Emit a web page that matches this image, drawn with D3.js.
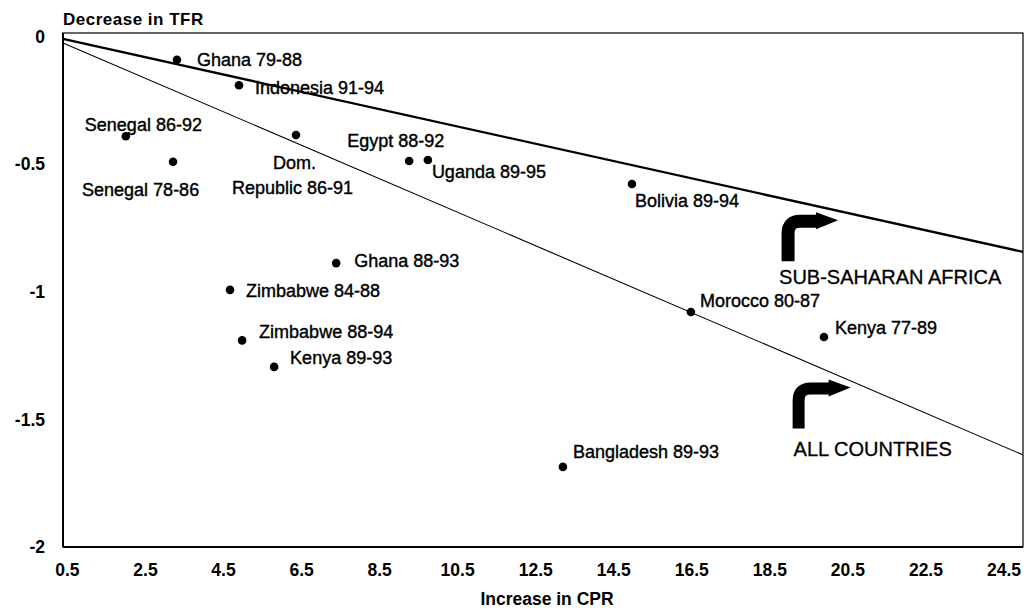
<!DOCTYPE html>
<html>
<head>
<meta charset="utf-8">
<script src="https://cdn.jsdelivr.net/npm/d3@7"></script>
<style>
  html, body { margin: 0; padding: 0; background: #fff; }
  svg { display: block; }
  text { font-family: "Liberation Sans", Arial, Helvetica, sans-serif; fill: #000; }
</style>
</head>
<body>
<svg id="chart" width="1028" height="609"></svg>
<script>
// Country episodes: increase in contraceptive prevalence (CPR) vs. decrease in TFR
const periods = [
  "Ghana 79-88", "Indonesia 91-94", "Senegal 86-92", "Senegal 78-86",
  "Dom.\nRepublic 86-91", "Egypt 88-92", "Uganda 89-95", "Ghana 88-93",
  "Zimbabwe 84-88", "Zimbabwe 88-94", "Kenya 89-93", "Bolivia 89-94",
  "Morocco 80-87", "Kenya 77-89", "Bangladesh 89-93"
];
const cprIncrease = [3.32, 4.91, 2.01, 3.22, 6.37, 9.27, 9.75, 7.40, 4.68, 4.99, 5.81, 14.98, 16.49, 19.90, 13.21];
const tfrDecrease = [-0.09, -0.19, -0.39, -0.49, -0.385, -0.487, -0.483, -0.887, -0.992, -1.19, -1.294, -0.577, -1.079, -1.177, -1.686];

// Fitted lines, given at the two ends of the x domain
const fitX = [0.4, 25];
const ssaFit = [-0.0085, -0.843];
const allFit = [-0.024, -1.639];

const xTicks = [0.5, 2.5, 4.5, 6.5, 8.5, 10.5, 12.5, 14.5, 16.5, 18.5, 20.5, 22.5, 24.5];
const yTicks = [0, -0.5, -1, -1.5, -2];

// Label placement (pixel offsets from each point, one entry per text line)
const labelOffsets = [
  [[20, 0]], [[16, 2]], [[-41, -12]], [[-91, 28]],
  [[-23, 28], [-64, 53]], [[-62, -20]], [[4, 12]], [[18, -2]],
  [[16, 1]], [[17, -9]], [[16, -9]], [[3, 17]],
  [[9, -11]], [[11, -9]], [[10, -15]]
];

const svg = d3.select("#chart");
const plot = { left: 63, right: 1023, top: 33, bottom: 547 };

const x = d3.scaleLinear().domain([0.4, 25]).range([plot.left, plot.right]);
const y = d3.scaleLinear().domain([0.015, -2]).range([plot.top, plot.bottom]);

// Plot frame
svg.append("rect")
  .attr("x", plot.left).attr("y", plot.top)
  .attr("width", plot.right - plot.left).attr("height", plot.bottom - plot.top)
  .attr("fill", "none").attr("stroke", "#000").attr("stroke-width", 1.2);
svg.append("line")
  .attr("x1", plot.left).attr("x2", plot.left).attr("y1", plot.top).attr("y2", plot.bottom)
  .attr("stroke", "#000").attr("stroke-width", 2);
svg.append("line")
  .attr("x1", plot.left).attr("x2", plot.right).attr("y1", plot.bottom).attr("y2", plot.bottom)
  .attr("stroke", "#000").attr("stroke-width", 2);

// Axes (labels only, no tick marks)
const xAxis = d3.axisBottom(x).tickValues(xTicks).tickSize(0).tickPadding(0)
  .tickFormat(d3.format(".1f"));
const gx = svg.append("g").attr("transform", `translate(0,${plot.bottom + 23})`).call(xAxis);
gx.select(".domain").remove();
gx.selectAll("text").attr("dy", "0.32em")
  .style("font-size", "17.5px").style("font-weight", "bold");

const yAxis = d3.axisLeft(y).tickValues(yTicks).tickSize(0).tickPadding(0)
  .tickFormat(d => String(d));
const gy = svg.append("g").attr("transform", `translate(${plot.left - 18},0)`).call(yAxis);
gy.select(".domain").remove();
gy.selectAll("text")
  .style("font-size", "17.5px").style("font-weight", "bold");

// Axis titles
svg.append("text").attr("x", plot.left).attr("y", 25)
  .style("font-size", "17px").style("font-weight", "bold").style("letter-spacing", "0.5px")
  .text("Decrease in TFR");
svg.append("text").attr("x", 547).attr("y", 605).attr("text-anchor", "middle")
  .style("font-size", "17.5px").style("font-weight", "bold")
  .text("Increase in CPR");

// Regression lines
const line = d3.line().x(d => x(d[0])).y(d => y(d[1]));
svg.append("path").datum(fitX.map((v, i) => [v, allFit[i]]))
  .attr("d", line).attr("fill", "none").attr("stroke", "#000").attr("stroke-width", 1.1);
svg.append("path").datum(fitX.map((v, i) => [v, ssaFit[i]]))
  .attr("d", line).attr("fill", "none").attr("stroke", "#000").attr("stroke-width", 2.3);

// Points
const pts = periods.map((p, i) => ({ name: p, cx: cprIncrease[i], cy: tfrDecrease[i], off: labelOffsets[i] }));
svg.append("g").selectAll("circle").data(pts).join("circle")
  .attr("cx", d => x(d.cx)).attr("cy", d => y(d.cy))
  .attr("r", 4.3).attr("fill", "#000");

// Point labels
const lg = svg.append("g");
pts.forEach(d => {
  d.name.split("\n").forEach((ln, j) => {
    lg.append("text")
      .attr("x", x(d.cx) + d.off[j][0])
      .attr("y", y(d.cy) + d.off[j][1])
      .attr("dy", "0.35em")
      .style("font-size", "18px")
      .style("stroke", "#000").style("stroke-width", "0.4px")
      .text(ln);
  });
});

// Group annotations: bent arrow pointing at each fitted line plus a caption
const notes = [
  { text: "SUB-SAHARAN AFRICA", ax: 18.98, ay: -0.88, stem: 40, barLen: 30, w: 13, captionDx: -9, captionDy: 16 },
  { text: "ALL COUNTRIES", ax: 19.25, ay: -1.535, stem: 40, barLen: 32, w: 12, captionDx: -5, captionDy: 21 }
];
notes.forEach(n => {
  const bx = x(n.ax), by = y(n.ay);
  const topY = by - n.stem;
  const r = 12;
  svg.append("path")
    .attr("d", `M${bx},${by} L${bx},${topY + r} Q${bx},${topY} ${bx + r},${topY} L${bx + n.barLen},${topY}`)
    .attr("fill", "none").attr("stroke", "#000").attr("stroke-width", n.w);
  const hx = bx + n.barLen - 2;
  svg.append("path")
    .attr("d", `M${hx},${topY - 9} L${hx + 22},${topY - 1} L${hx},${topY + 8} Z`)
    .attr("fill", "#000");
  svg.append("text")
    .attr("x", bx + n.captionDx).attr("y", by + n.captionDy)
    .attr("dy", "0.35em")
    .style("font-size", "20px")
    .style("stroke", "#000").style("stroke-width", "0.3px")
    .text(n.text);
});
</script>
</body>
</html>
